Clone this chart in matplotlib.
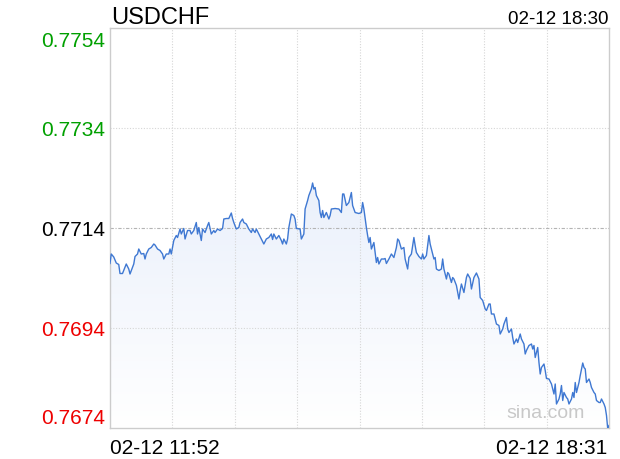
import numpy as np
import matplotlib
matplotlib.use("Agg")
import matplotlib.pyplot as plt
from matplotlib.colors import LinearSegmentedColormap

plt.rcParams['font.family'] = ['Liberation Sans', 'DejaVu Sans']

# ---- data (minutes after 11:52, price) ----
symbol = "USDCHF"
stamp_top = "02-12 18:30"
time_start = "02-12 11:52"
time_end = "02-12 18:31"
n_minutes = 399

minutes = [
    0, 1, 3, 5, 7, 8, 10, 13, 15, 16, 19, 20, 22, 23, 25, 27, 28, 29, 31, 33,
    35, 36, 38, 40, 42, 43, 45, 47, 48, 49, 51, 53, 54, 56, 57, 59, 60, 62, 64, 65,
    67, 69, 70, 71, 73, 74, 76, 78, 79, 81, 83, 84, 86, 88, 90, 91, 93, 95, 97, 98,
    99, 101, 103, 104, 106, 107, 109, 111, 113, 114, 116, 117, 119, 121, 123, 125, 127, 129, 130, 131,
    133, 135, 137, 138, 139, 141, 142, 143, 145, 147, 148, 149, 152, 153, 155, 156, 158, 159, 161, 162,
    163, 164, 165, 167, 168, 169, 170, 171, 173, 175, 176, 177, 180, 183, 185, 186, 187, 189, 191, 193,
    194, 196, 199, 201, 202, 203, 205, 206, 207, 208, 209, 211, 213, 214, 215, 217, 219, 220, 221, 223,
    225, 227, 229, 230, 231, 233, 235, 236, 238, 239, 241, 243, 244, 245, 247, 249, 250, 251, 253, 255,
    256, 257, 259, 260, 261, 263, 265, 266, 267, 269, 270, 271, 273, 274, 275, 277, 279, 280, 281, 283,
    285, 286, 288, 289, 291, 293, 295, 296, 298, 300, 301, 303, 304, 305, 307, 309, 311, 312, 314, 315,
    317, 318, 319, 321, 322, 323, 325, 326, 328, 329, 331, 332, 333, 335, 337, 338, 339, 340, 342, 343,
    344, 345, 347, 348, 349, 351, 353, 355, 356, 357, 359, 360, 361, 362, 363, 365, 366, 367, 369, 370,
    371, 372, 373, 375, 376, 378, 379, 380, 381, 383, 384, 385, 387, 388, 389, 391, 392, 393, 395, 396,
    397, 398, 399,
]

prices = [
    0.77069, 0.77088, 0.77082, 0.77070, 0.77067, 0.77049, 0.77049, 0.77068, 0.77058, 0.77048,
    0.77068, 0.77083, 0.77088, 0.77098, 0.77088, 0.77089, 0.77078, 0.77088, 0.77098, 0.77101,
    0.77108, 0.77106, 0.77098, 0.77095, 0.77088, 0.77078, 0.77088, 0.77088, 0.77098, 0.77088,
    0.77115, 0.77125, 0.77121, 0.77138, 0.77128, 0.77139, 0.77118, 0.77135, 0.77135, 0.77128,
    0.77135, 0.77151, 0.77128, 0.77141, 0.77115, 0.77138, 0.77131, 0.77145, 0.77151, 0.77128,
    0.77135, 0.77131, 0.77138, 0.77135, 0.77139, 0.77158, 0.77159, 0.77159, 0.77170, 0.77159,
    0.77151, 0.77138, 0.77141, 0.77151, 0.77158, 0.77151, 0.77148, 0.77138, 0.77131, 0.77138,
    0.77131, 0.77138, 0.77128, 0.77118, 0.77108, 0.77118, 0.77121, 0.77128, 0.77117, 0.77128,
    0.77118, 0.77125, 0.77115, 0.77108, 0.77118, 0.77108, 0.77118, 0.77141, 0.77168, 0.77165,
    0.77158, 0.77139, 0.77138, 0.77118, 0.77128, 0.77178, 0.77195, 0.77205, 0.77218, 0.77230,
    0.77218, 0.77221, 0.77205, 0.77195, 0.77171, 0.77161, 0.77175, 0.77161, 0.77171, 0.77158,
    0.77165, 0.77178, 0.77179, 0.77178, 0.77171, 0.77208, 0.77208, 0.77185, 0.77191, 0.77211,
    0.77185, 0.77171, 0.77169, 0.77171, 0.77191, 0.77178, 0.77141, 0.77125, 0.77111, 0.77121,
    0.77098, 0.77111, 0.77071, 0.77081, 0.77068, 0.77078, 0.77078, 0.77079, 0.77069, 0.77078,
    0.77088, 0.77081, 0.77101, 0.77118, 0.77115, 0.77098, 0.77101, 0.77078, 0.77058, 0.77081,
    0.77088, 0.77121, 0.77105, 0.77091, 0.77083, 0.77078, 0.77088, 0.77078, 0.77085, 0.77125,
    0.77108, 0.77098, 0.77078, 0.77081, 0.77058, 0.77055, 0.77058, 0.77078, 0.77058, 0.77038,
    0.77051, 0.77048, 0.77031, 0.77041, 0.77038, 0.77025, 0.76998, 0.77015, 0.77028, 0.77011,
    0.77041, 0.77048, 0.77039, 0.77018, 0.77041, 0.77050, 0.77038, 0.77001, 0.76995, 0.76978,
    0.76975, 0.76988, 0.76988, 0.76968, 0.76968, 0.76948, 0.76945, 0.76928, 0.76938, 0.76948,
    0.76961, 0.76938, 0.76931, 0.76938, 0.76921, 0.76908, 0.76918, 0.76911, 0.76928, 0.76918,
    0.76908, 0.76888, 0.76895, 0.76905, 0.76908, 0.76898, 0.76905, 0.76881, 0.76901, 0.76871,
    0.76848, 0.76861, 0.76868, 0.76855, 0.76839, 0.76838, 0.76828, 0.76808, 0.76828, 0.76788,
    0.76798, 0.76808, 0.76825, 0.76795, 0.76811, 0.76801, 0.76798, 0.76788, 0.76798, 0.76811,
    0.76801, 0.76831, 0.76811, 0.76831, 0.76845, 0.76870, 0.76861, 0.76858, 0.76831, 0.76838,
    0.76831, 0.76821, 0.76811, 0.76808, 0.76795, 0.76791, 0.76791, 0.76798, 0.76788, 0.76781,
    0.76765, 0.76738, 0.76745,
]

y_ticks = [0.7674, 0.7694, 0.7714, 0.7734, 0.7754]
y_colors = ['#ee0000', '#ee0000', '#000000', '#00a000', '#00a000']

# ---- figure ----
fig = plt.figure(figsize=(6.2, 4.6), dpi=100)
ax = fig.add_axes([110 / 620, 31 / 460, 499 / 620, 400 / 460])

x = np.array(minutes)
y = np.array(prices)
ylo, yhi = y_ticks[0], y_ticks[-1]

ax.set_xlim(0, n_minutes)
ax.set_ylim(ylo, yhi)

# gradient fill under the line
fill = ax.fill_between(x, y, ylo, color='none', lw=0)
cmap = LinearSegmentedColormap.from_list('fade', ['#ffffff', '#dde7f9'])
grad = np.linspace(0, 1, 256).reshape(-1, 1)
img = ax.imshow(grad, extent=[0, n_minutes, ylo, yhi], origin='lower',
                aspect='auto', cmap=cmap, zorder=1)
img.set_clip_path(fill.get_paths()[0], transform=ax.transData)

# grid
for i in range(1, 8):
    ax.axvline(i * n_minutes / 8, color='#d6d6d6', lw=0.8, ls=(0, (1, 1.5)), zorder=2)
for v in y_ticks[1:-1]:
    if v == y_ticks[2]:
        ax.axhline(v, color='#b4b4b4', lw=0.8, ls=(0, (3, 1.5, 1, 1.5)), zorder=2)
    else:
        ax.axhline(v, color='#d6d6d6', lw=0.8, ls=(0, (1, 1.5)), zorder=2)

ax.plot(x, y, color='#3f78d2', lw=1.0, zorder=3, clip_on=True)

ax.set_xticks([])
ax.set_yticks([])
for s in ax.spines.values():
    s.set_color('#cccccc')
    s.set_linewidth(1.0)

# y labels
offsets = [5, -7, -7.5, -7, -18]
for v, c, dy in zip(y_ticks, y_colors, offsets):
    ax.annotate(f"{v:.4f}", xy=(0, v), xycoords=('axes fraction', 'data'),
                xytext=(-5, dy), textcoords='offset pixels',
                ha='right', va='baseline', fontsize=15, color=c)

# top and bottom texts
ax.annotate(symbol, xy=(0, 1), xycoords='axes fraction', xytext=(1, 5),
            textcoords='offset pixels', ha='left', va='baseline', fontsize=17)
ax.annotate(stamp_top, xy=(1, 1), xycoords='axes fraction', xytext=(-1, 5),
            textcoords='offset pixels', ha='right', va='baseline', fontsize=13.5)
ax.annotate(time_start, xy=(0, 0), xycoords='axes fraction', xytext=(0, -25),
            textcoords='offset pixels', ha='left', va='baseline', fontsize=15)
ax.annotate(time_end, xy=(1, 0), xycoords='axes fraction', xytext=(-2, -25),
            textcoords='offset pixels', ha='right', va='baseline', fontsize=15)

# watermark
ax.annotate("sina.com", xy=(0.952, 0), xycoords='axes fraction', xytext=(0, 11),
            textcoords='offset pixels', ha='right', va='baseline',
            fontsize=14, color='#c8c8c8', zorder=4)

fig.savefig("out.png", dpi=100)
